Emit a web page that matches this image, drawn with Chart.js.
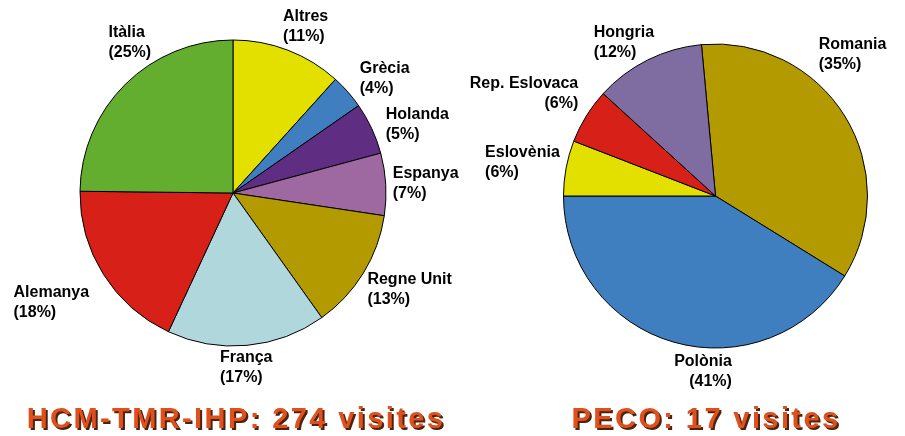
<!DOCTYPE html>
<html>
<head>
<meta charset="utf-8">
<script src="https://cdn.jsdelivr.net/npm/chart.js@4.4.1/dist/chart.umd.min.js"></script>
<style>
  html, body { margin: 0; padding: 0; background: #ffffff; }
  #wrap { position: relative; width: 905px; height: 436px; overflow: hidden; }
  canvas { position: absolute; top: 0; }
  #c1 { left: 0; }
  #c2 { left: 460px; }
</style>
</head>
<body>
<div id="wrap">
  <canvas id="c1" width="460" height="436"></canvas>
  <canvas id="c2" width="445" height="436"></canvas>
</div>
<script>
// ---- Data ----
const hcmCategories = ['Altres', 'Grècia', 'Holanda', 'Espanya', 'Regne Unit', 'França', 'Alemanya', 'Itàlia'];
const hcmVisits     = [32, 10, 15, 18, 35, 46, 50, 68];   // (total 274)
const hcmPercents   = [11, 4, 5, 7, 13, 17, 18, 25];      // as printed in the labels
const hcmTitle      = 'HCM-TMR-IHP: 274 visites';

const pecoCategories = ['Romania', 'Polònia', 'Eslovènia', 'Rep. Eslovaca', 'Hongria'];
const pecoVisits     = [6, 7, 1, 1, 2];                   // (total 17)
const pecoPercents   = [35, 41, 6, 6, 12];
const pecoTitle      = 'PECO: 17 visites';

// ---- Styles ----
const hcmColors  = ['#e3e000', '#3f7fbf', '#5f2d82', '#9e68a0', '#b39a00', '#b0d8dc', '#d72017', '#63ad2f'];
const pecoColors = ['#b39a00', '#3f7fbf', '#e3e000', '#d72017', '#7f6ca0'];

// label placement tweaks relative to the slice's outer mid point [dx, dy, align]
const hcmLabelNudges = [
  [-5, -29, 'left'], [12, -19, 'left'], [14, -9, 'left'], [7, -6, 'left'],
  [4, 11, 'left'], [-27, 17, 'left'], [-90, 22, 'left'], [-17, -47, 'left']
];
const pecoLabelNudges = [
  [-26, -67, 'left'], [58, 24, 'right'], [-81, -11, 'left'], [-8, -28, 'right'], [-54, -23, 'left']
];

const FONT = '"Liberation Sans", Arial, Helvetica, sans-serif';

const sliceLabels = {
  id: 'sliceLabels',
  afterDraw(chart, args, opts) {
    const ctx = chart.ctx;
    const meta = chart.getDatasetMeta(0);
    ctx.save();
    ctx.font = 'bold 16px ' + FONT;
    ctx.fillStyle = '#000000';
    ctx.textBaseline = 'alphabetic';
    meta.data.forEach((arc, i) => {
      const p = arc.getProps(['x', 'y', 'startAngle', 'endAngle', 'outerRadius'], true);
      const mid = (p.startAngle + p.endAngle) / 2;
      const bx = p.x + Math.cos(mid) * p.outerRadius;
      const by = p.y + Math.sin(mid) * p.outerRadius;
      const n = opts.nudges[i];
      const x = bx + n[0];
      const y = by + n[1];
      ctx.textAlign = n[2];
      ctx.fillText(chart.data.labels[i], x, y);
      ctx.fillText('(' + opts.percents[i] + '%)', x, y + 20);
    });
    ctx.restore();
  }
};

const bottomTitle = {
  id: 'bottomTitle',
  afterDraw(chart, args, opts) {
    const ctx = chart.ctx;
    ctx.save();
    ctx.font = 'bold 29px ' + FONT;
    if ('letterSpacing' in ctx) ctx.letterSpacing = '2.4px';
    ctx.textAlign = 'center';
    ctx.textBaseline = 'alphabetic';
    ctx.fillStyle = '#4a2410';
    ctx.fillText(opts.text, opts.x + 2, opts.y + 2);
    ctx.fillStyle = '#e0501c';
    ctx.fillText(opts.text, opts.x, opts.y);
    ctx.restore();
  }
};

function makePie(id, cats, vals, pcts, colors, rotation, radius, padding, nudges, title, titleX) {
  return new Chart(document.getElementById(id), {
    type: 'pie',
    data: {
      labels: cats,
      datasets: [{
        data: vals,
        backgroundColor: colors,
        borderColor: '#000000',
        borderWidth: 1
      }]
    },
    options: {
      responsive: false,
      animation: false,
      rotation: rotation,
      radius: radius,
      layout: { padding: padding },
      plugins: {
        legend: { display: false },
        tooltip: { enabled: false },
        title: { display: false },
        sliceLabels: { nudges: nudges, percents: pcts },
        bottomTitle: { text: title, x: titleX, y: 428 }
      }
    },
    plugins: [sliceLabels, bottomTitle]
  });
}

makePie('c1', hcmCategories, hcmVisits, hcmPercents, hcmColors, 0, 153,
  { left: 80, right: 74, top: 40, bottom: 90 }, hcmLabelNudges, hcmTitle, 236);
makePie('c2', pecoCategories, pecoVisits, pecoPercents, pecoColors, -5.3, 152,
  { left: 104, right: 38, top: 44, bottom: 88 }, pecoLabelNudges, pecoTitle, 246);
</script>
</body>
</html>
